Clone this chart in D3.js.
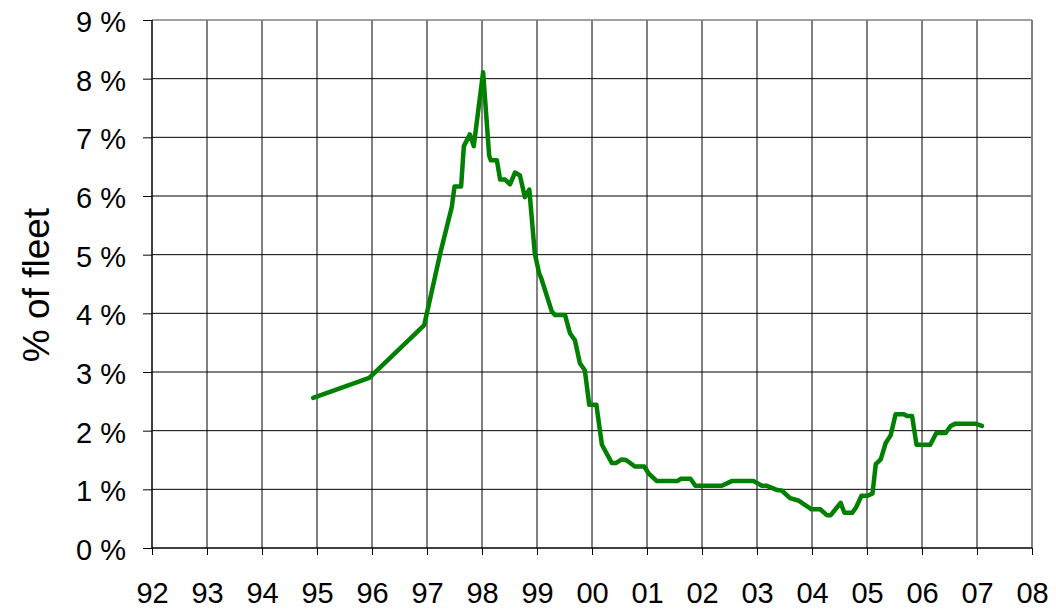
<!DOCTYPE html>
<html>
<head>
<meta charset="utf-8">
<script src="https://cdn.jsdelivr.net/npm/d3@7"></script>
<style>
  body { margin: 0; background: #fff; }
  svg { display: block; font-family: "Liberation Sans", Arial, sans-serif; }
</style>
</head>
<body>
<div id="chart"></div>
<script>
// Share of fleet, decimal year vs percent
const years = [
  1994.93, 1995.95, 1996.95, 1997.24, 1997.45, 1997.50, 1997.62, 1997.67, 1997.78, 1997.85,
  1998.02, 1998.13, 1998.16, 1998.27, 1998.33, 1998.42, 1998.51, 1998.60, 1998.69, 1998.78,
  1998.86, 1998.96, 1999.04, 1999.08, 1999.27, 1999.33, 1999.51, 1999.60, 1999.69, 1999.78,
  1999.87, 1999.95, 2000.08, 2000.18, 2000.36, 2000.44, 2000.54, 2000.62, 2000.78, 2000.95,
  2001.03, 2001.18, 2001.55, 2001.62, 2001.79, 2001.88, 2002.36, 2002.54, 2002.94, 2003.09,
  2003.18, 2003.36, 2003.45, 2003.60, 2003.75, 2003.99, 2004.15, 2004.27, 2004.34, 2004.52,
  2004.59, 2004.73, 2004.80, 2004.90, 2005.01, 2005.10, 2005.16, 2005.25, 2005.34, 2005.43,
  2005.52, 2005.67, 2005.73, 2005.82, 2005.90, 2006.15, 2006.26, 2006.43, 2006.52, 2006.61,
  2006.97, 2007.09
];
const values = [
  2.56, 2.90, 3.80, 5.02, 5.81, 6.16, 6.16, 6.85, 7.05, 6.85,
  8.11, 6.69, 6.61, 6.61, 6.28, 6.28, 6.20, 6.40, 6.35, 5.98,
  6.11, 5.02, 4.68, 4.59, 4.03, 3.97, 3.97, 3.66, 3.54, 3.15,
  3.03, 2.44, 2.44, 1.76, 1.45, 1.45, 1.51, 1.50, 1.39, 1.39,
  1.27, 1.14, 1.14, 1.18, 1.18, 1.06, 1.06, 1.14, 1.14, 1.06,
  1.06, 0.99, 0.98, 0.85, 0.81, 0.66, 0.66, 0.56, 0.56, 0.77,
  0.60, 0.60, 0.69, 0.89, 0.89, 0.93, 1.43, 1.51, 1.79, 1.92,
  2.28, 2.28, 2.25, 2.25, 1.76, 1.76, 1.96, 1.96, 2.08, 2.12,
  2.12, 2.08
];
const yearTicks = d3.range(1992, 2009);
const pctTicks = d3.range(0, 10);
const yLabel = '% of fleet';

const width = 1056;
const height = 611;
const margin = {top: 20, left: 152, right: 24, bottom: 63};
const fontSize = '29px';

const svg = d3.select('#chart')
  .append('svg')
  .attr('width', width)
  .attr('height', height);

const xScale = d3.scaleLinear()
  .domain([1992, 2008])
  .range([margin.left, width - margin.right]);

const yScale = d3.scaleLinear()
  .domain([0, 9])
  .range([height - margin.bottom, margin.top]);

// Grid lines
svg.append('g')
  .selectAll('line')
  .data(yearTicks.slice(1, -1))
  .enter()
  .append('line')
  .attr('x1', d => xScale(d))
  .attr('x2', d => xScale(d))
  .attr('y1', yScale(9))
  .attr('y2', yScale(0))
  .attr('stroke', '#000')
  .attr('stroke-width', 1);

svg.append('g')
  .selectAll('line')
  .data(pctTicks.slice(1, -1))
  .enter()
  .append('line')
  .attr('x1', xScale(1992))
  .attr('x2', xScale(2008))
  .attr('y1', d => yScale(d))
  .attr('y2', d => yScale(d))
  .attr('stroke', '#000')
  .attr('stroke-width', 1);

// Frame top and right
svg.append('line')
  .attr('x1', xScale(1992)).attr('x2', xScale(2008))
  .attr('y1', yScale(9)).attr('y2', yScale(9))
  .attr('stroke', '#808080').attr('stroke-width', 1.5);
svg.append('line')
  .attr('x1', xScale(2008)).attr('x2', xScale(2008))
  .attr('y1', yScale(9)).attr('y2', yScale(0))
  .attr('stroke', '#808080').attr('stroke-width', 2);

// x-axis
const xAxis = svg.append('g')
  .attr('transform', `translate(0, ${yScale(0)})`)
  .call(d3.axisBottom(xScale)
    .tickValues(yearTicks)
    .tickSize(7)
    .tickPadding(27)
    .tickFormat(d => String(d).slice(2)));
xAxis.select('.domain').attr('stroke', '#000').attr('stroke-width', 1.5).attr('d', `M${xScale(1992)},0H${xScale(2008)}`);
xAxis.selectAll('text').style('font-size', fontSize).style('fill', '#000');

// y-axis
const yAxis = svg.append('g')
  .attr('transform', `translate(${xScale(1992)}, 0)`)
  .call(d3.axisLeft(yScale)
    .tickValues(pctTicks)
    .tickSize(9)
    .tickPadding(17)
    .tickFormat(d => d + ' %'));
yAxis.select('.domain').attr('stroke', '#000').attr('stroke-width', 1.5).attr('d', `M0,${yScale(0)}V${yScale(9)}`);
yAxis.selectAll('text').style('font-size', fontSize).style('fill', '#000').attr('dy', '0.4em');

// y label
svg.append('text')
  .attr('transform', 'rotate(-90)')
  .attr('x', -285)
  .attr('y', 49)
  .style('text-anchor', 'middle')
  .style('font-size', '37px')
  .style('fill', '#000')
  .text(yLabel);

// Data line
const line = d3.line()
  .x((d, i) => xScale(years[i]))
  .y(d => yScale(d));

svg.append('path')
  .datum(values)
  .attr('d', line)
  .attr('fill', 'none')
  .attr('stroke', '#008000')
  .attr('stroke-width', 4.5)
  .attr('stroke-linejoin', 'round')
  .attr('stroke-linecap', 'round');
</script>
</body>
</html>
